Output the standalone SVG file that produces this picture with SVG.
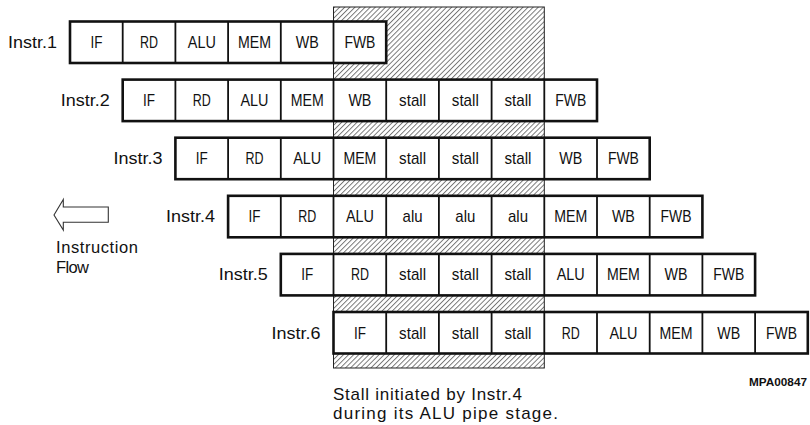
<svg xmlns="http://www.w3.org/2000/svg" width="810" height="425" viewBox="0 0 810 425">
<style>
text{font-family:"Liberation Sans",Arial,sans-serif;fill:#111}
.c{font-size:17px;text-anchor:middle}
.lbl{font-size:17px;text-anchor:end}
.box{fill:#fff;stroke:#111;stroke-width:2.6}
.div{fill:none;stroke:#111;stroke-width:1.8}
.note{font-size:16.5px}
.cap{font-size:17px}
.code{font-size:10.5px;font-weight:bold;text-anchor:end}
</style>
<defs>
<pattern id="hatch" patternUnits="userSpaceOnUse" width="3.6" height="10" patternTransform="rotate(45)">
<line x1="0.5" y1="0" x2="0.5" y2="10" stroke="#444" stroke-width="0.75"/>
</pattern>
</defs>
<rect id="stall-zone" x="333.5" y="7" width="210.8" height="361" fill="url(#hatch)" stroke="#222" stroke-width="1"/>

<g id="instr1">
<text class="lbl" x="57" y="48" textLength="49" lengthAdjust="spacingAndGlyphs">Instr.1</text>
<rect class="box" x="70" y="21.5" width="316.2" height="41.5"/>
<path class="div" d="M122.7 21.5V63M175.4 21.5V63M228.1 21.5V63M280.8 21.5V63M333.5 21.5V63"/>
<text class="c" x="96.4" y="48" textLength="12" lengthAdjust="spacingAndGlyphs">IF</text>
<text class="c" x="149.1" y="48" textLength="18" lengthAdjust="spacingAndGlyphs">RD</text>
<text class="c" x="201.8" y="48" textLength="28" lengthAdjust="spacingAndGlyphs">ALU</text>
<text class="c" x="254.5" y="48" textLength="33" lengthAdjust="spacingAndGlyphs">MEM</text>
<text class="c" x="307.2" y="48" textLength="23" lengthAdjust="spacingAndGlyphs">WB</text>
<text class="c" x="359.9" y="48" textLength="31" lengthAdjust="spacingAndGlyphs">FWB</text>
</g>

<g id="instr2">
<text class="lbl" x="109.7" y="106.1" textLength="49" lengthAdjust="spacingAndGlyphs">Instr.2</text>
<rect class="box" x="122.7" y="79.6" width="474.3" height="41.5"/>
<path class="div" d="M175.4 79.6V121.1M228.1 79.6V121.1M280.8 79.6V121.1M333.5 79.6V121.1M386.2 79.6V121.1M438.9 79.6V121.1M491.6 79.6V121.1M544.3 79.6V121.1"/>
<text class="c" x="149.1" y="106.1" textLength="12" lengthAdjust="spacingAndGlyphs">IF</text>
<text class="c" x="201.8" y="106.1" textLength="18" lengthAdjust="spacingAndGlyphs">RD</text>
<text class="c" x="254.5" y="106.1" textLength="28" lengthAdjust="spacingAndGlyphs">ALU</text>
<text class="c" x="307.2" y="106.1" textLength="33" lengthAdjust="spacingAndGlyphs">MEM</text>
<text class="c" x="359.9" y="106.1" textLength="23" lengthAdjust="spacingAndGlyphs">WB</text>
<text class="c" x="412.6" y="106.1" textLength="27" lengthAdjust="spacingAndGlyphs">stall</text>
<text class="c" x="465.3" y="106.1" textLength="27" lengthAdjust="spacingAndGlyphs">stall</text>
<text class="c" x="518.0" y="106.1" textLength="27" lengthAdjust="spacingAndGlyphs">stall</text>
<text class="c" x="570.7" y="106.1" textLength="31" lengthAdjust="spacingAndGlyphs">FWB</text>
</g>

<g id="instr3">
<text class="lbl" x="162.4" y="164.2" textLength="49" lengthAdjust="spacingAndGlyphs">Instr.3</text>
<rect class="box" x="175.4" y="137.7" width="474.3" height="41.5"/>
<path class="div" d="M228.1 137.7V179.2M280.8 137.7V179.2M333.5 137.7V179.2M386.2 137.7V179.2M438.9 137.7V179.2M491.6 137.7V179.2M544.3 137.7V179.2M597 137.7V179.2"/>
<text class="c" x="201.8" y="164.2" textLength="12" lengthAdjust="spacingAndGlyphs">IF</text>
<text class="c" x="254.5" y="164.2" textLength="18" lengthAdjust="spacingAndGlyphs">RD</text>
<text class="c" x="307.2" y="164.2" textLength="28" lengthAdjust="spacingAndGlyphs">ALU</text>
<text class="c" x="359.9" y="164.2" textLength="33" lengthAdjust="spacingAndGlyphs">MEM</text>
<text class="c" x="412.6" y="164.2" textLength="27" lengthAdjust="spacingAndGlyphs">stall</text>
<text class="c" x="465.3" y="164.2" textLength="27" lengthAdjust="spacingAndGlyphs">stall</text>
<text class="c" x="518.0" y="164.2" textLength="27" lengthAdjust="spacingAndGlyphs">stall</text>
<text class="c" x="570.7" y="164.2" textLength="23" lengthAdjust="spacingAndGlyphs">WB</text>
<text class="c" x="623.4" y="164.2" textLength="31" lengthAdjust="spacingAndGlyphs">FWB</text>
</g>

<g id="instr4">
<text class="lbl" x="215.1" y="222.3" textLength="49" lengthAdjust="spacingAndGlyphs">Instr.4</text>
<rect class="box" x="228.1" y="195.8" width="474.3" height="41.5"/>
<path class="div" d="M280.8 195.8V237.3M333.5 195.8V237.3M386.2 195.8V237.3M438.9 195.8V237.3M491.6 195.8V237.3M544.3 195.8V237.3M597 195.8V237.3M649.7 195.8V237.3"/>
<text class="c" x="254.5" y="222.3" textLength="12" lengthAdjust="spacingAndGlyphs">IF</text>
<text class="c" x="307.2" y="222.3" textLength="18" lengthAdjust="spacingAndGlyphs">RD</text>
<text class="c" x="359.9" y="222.3" textLength="28" lengthAdjust="spacingAndGlyphs">ALU</text>
<text class="c" x="412.6" y="222.3" textLength="20" lengthAdjust="spacingAndGlyphs">alu</text>
<text class="c" x="465.3" y="222.3" textLength="20" lengthAdjust="spacingAndGlyphs">alu</text>
<text class="c" x="518.0" y="222.3" textLength="20" lengthAdjust="spacingAndGlyphs">alu</text>
<text class="c" x="570.7" y="222.3" textLength="33" lengthAdjust="spacingAndGlyphs">MEM</text>
<text class="c" x="623.4" y="222.3" textLength="23" lengthAdjust="spacingAndGlyphs">WB</text>
<text class="c" x="676.1" y="222.3" textLength="31" lengthAdjust="spacingAndGlyphs">FWB</text>
</g>

<g id="instr5">
<text class="lbl" x="267.8" y="280.4" textLength="49" lengthAdjust="spacingAndGlyphs">Instr.5</text>
<rect class="box" x="280.8" y="253.9" width="474.3" height="41.5"/>
<path class="div" d="M333.5 253.9V295.4M386.2 253.9V295.4M438.9 253.9V295.4M491.6 253.9V295.4M544.3 253.9V295.4M597 253.9V295.4M649.7 253.9V295.4M702.4 253.9V295.4"/>
<text class="c" x="307.2" y="280.4" textLength="12" lengthAdjust="spacingAndGlyphs">IF</text>
<text class="c" x="359.9" y="280.4" textLength="18" lengthAdjust="spacingAndGlyphs">RD</text>
<text class="c" x="412.6" y="280.4" textLength="27" lengthAdjust="spacingAndGlyphs">stall</text>
<text class="c" x="465.3" y="280.4" textLength="27" lengthAdjust="spacingAndGlyphs">stall</text>
<text class="c" x="518.0" y="280.4" textLength="27" lengthAdjust="spacingAndGlyphs">stall</text>
<text class="c" x="570.7" y="280.4" textLength="28" lengthAdjust="spacingAndGlyphs">ALU</text>
<text class="c" x="623.4" y="280.4" textLength="33" lengthAdjust="spacingAndGlyphs">MEM</text>
<text class="c" x="676.1" y="280.4" textLength="23" lengthAdjust="spacingAndGlyphs">WB</text>
<text class="c" x="728.8" y="280.4" textLength="31" lengthAdjust="spacingAndGlyphs">FWB</text>
</g>

<g id="instr6">
<text class="lbl" x="320.5" y="338.5" textLength="49" lengthAdjust="spacingAndGlyphs">Instr.6</text>
<rect class="box" x="333.5" y="312" width="474.3" height="41.5"/>
<path class="div" d="M386.2 312V353.5M438.9 312V353.5M491.6 312V353.5M544.3 312V353.5M597 312V353.5M649.7 312V353.5M702.4 312V353.5M755.1 312V353.5"/>
<text class="c" x="359.9" y="338.5" textLength="12" lengthAdjust="spacingAndGlyphs">IF</text>
<text class="c" x="412.6" y="338.5" textLength="27" lengthAdjust="spacingAndGlyphs">stall</text>
<text class="c" x="465.3" y="338.5" textLength="27" lengthAdjust="spacingAndGlyphs">stall</text>
<text class="c" x="518.0" y="338.5" textLength="27" lengthAdjust="spacingAndGlyphs">stall</text>
<text class="c" x="570.7" y="338.5" textLength="18" lengthAdjust="spacingAndGlyphs">RD</text>
<text class="c" x="623.4" y="338.5" textLength="28" lengthAdjust="spacingAndGlyphs">ALU</text>
<text class="c" x="676.1" y="338.5" textLength="33" lengthAdjust="spacingAndGlyphs">MEM</text>
<text class="c" x="728.8" y="338.5" textLength="23" lengthAdjust="spacingAndGlyphs">WB</text>
<text class="c" x="781.5" y="338.5" textLength="31" lengthAdjust="spacingAndGlyphs">FWB</text>
</g>

<g id="connectors">
<polygon points="54,215 63.3,199.5 63.3,207 108.3,207 108.3,222.3 63.3,222.3 63.3,230" fill="#fff" stroke="#333" stroke-width="1.1" stroke-linejoin="miter"/>
</g>

<g id="legend">
<text class="note" x="56" y="252.5" textLength="82" lengthAdjust="spacing">Instruction</text>
<text class="note" x="56" y="272.5" textLength="33" lengthAdjust="spacing">Flow</text>
</g>

<g id="caption">
<text class="cap" x="333" y="399.5" textLength="189" lengthAdjust="spacing">Stall initiated by Instr.4</text>
<text class="cap" x="333" y="419" textLength="225" lengthAdjust="spacing">during its ALU pipe stage.</text>
<text class="code" x="807" y="385.5" textLength="58" lengthAdjust="spacingAndGlyphs">MPA00847</text>
</g>
</svg>
